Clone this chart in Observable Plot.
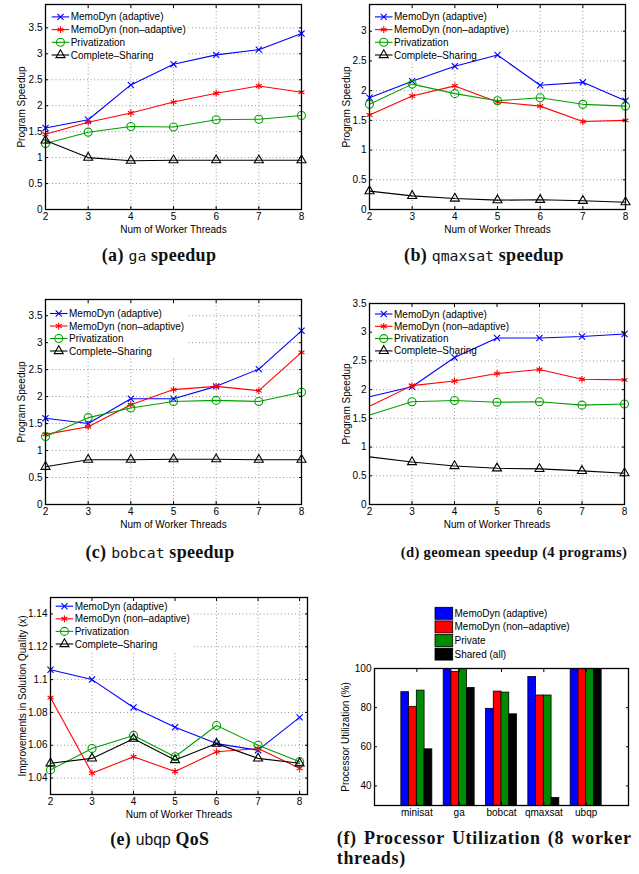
<!DOCTYPE html>
<html><head><meta charset="utf-8">
<script src="https://cdn.jsdelivr.net/npm/d3@7"></script>
<script src="https://cdn.jsdelivr.net/npm/@observablehq/plot@0.6"></script>
<style>
body{margin:0;background:#fff;}
#root{position:relative;width:639px;height:874px;overflow:hidden;background:#fff;}
.panel{position:absolute;}
.cap{position:absolute;font-family:"Liberation Serif","Times New Roman",serif;font-weight:bold;font-size:17px;letter-spacing:0.3px;white-space:nowrap;transform:translate(-50%,-50%);color:#111;line-height:1;}
.mono{font-family:"DejaVu Sans Mono","Liberation Mono",monospace;font-weight:normal;font-size:0.82em;letter-spacing:0;}
.sans{font-family:"Liberation Sans",Arial,sans-serif;font-weight:normal;font-size:0.88em;letter-spacing:0;}
.capf{position:absolute;font-family:"Liberation Serif","Times New Roman",serif;font-weight:bold;font-size:18px;letter-spacing:0.7px;color:#111;line-height:1;}
</style></head><body><div id="root"></div>
<script>
// ---------- data ----------
const threads = [2, 3, 4, 5, 6, 7, 8];
const seriesNames = ["MemoDyn (adaptive)", "MemoDyn (non\u2013adaptive)", "Privatization", "Complete\u2013Sharing"];

const gaAdaptive      = [1.57, 1.73, 2.40, 2.80, 2.98, 3.08, 3.39];
const gaNonAdaptive   = [1.45, 1.68, 1.86, 2.07, 2.24, 2.38, 2.26];
const gaPrivatization = [1.27, 1.49, 1.60, 1.59, 1.73, 1.74, 1.81];
const gaSharing       = [1.33, 1.00, 0.94, 0.95, 0.95, 0.95, 0.95];

const qmaxsatAdaptive      = [1.88, 2.16, 2.41, 2.60, 2.09, 2.14, 1.83];
const qmaxsatNonAdaptive   = [1.59, 1.91, 2.08, 1.81, 1.74, 1.48, 1.50];
const qmaxsatPrivatization = [1.77, 2.11, 1.95, 1.83, 1.88, 1.77, 1.74];
const qmaxsatSharing       = [0.31, 0.23, 0.185, 0.157, 0.163, 0.146, 0.123];

const bobcatAdaptive      = [1.60, 1.50, 1.96, 1.96, 2.19, 2.51, 3.22];
const bobcatNonAdaptive   = [1.30, 1.44, 1.85, 2.13, 2.19, 2.11, 2.82];
const bobcatPrivatization = [1.26, 1.61, 1.79, 1.91, 1.93, 1.91, 2.08];
const bobcatSharing       = [0.70, 0.83, 0.83, 0.84, 0.84, 0.83, 0.83];

const geoAdaptive      = [1.875, 2.05, 2.56, 2.90, 2.90, 2.925, 2.97];
const geoNonAdaptive   = [1.71, 2.07, 2.15, 2.28, 2.35, 2.18, 2.17];
const geoPrivatization = [1.56, 1.79, 1.81, 1.78, 1.79, 1.73, 1.75];
const geoSharing       = [0.83, 0.74, 0.67, 0.63, 0.62, 0.585, 0.545];

const ubqpAdaptive      = [1.106, 1.100, 1.083, 1.071, 1.061, 1.057, 1.077];
const ubqpNonAdaptive   = [1.089, 1.043, 1.053, 1.044, 1.056, 1.058, 1.046];
const ubqpPrivatization = [1.045, 1.058, 1.066, 1.053, 1.072, 1.060, 1.050];
const ubqpSharing       = [1.049, 1.052, 1.064, 1.051, 1.061, 1.052, 1.049];

const speedupTicks34 = [0, 0.5, 1, 1.5, 2, 2.5, 3, 3.5];
const speedupTicks3  = [0, 0.5, 1, 1.5, 2, 2.5, 3];
const qosTicks       = [1.04, 1.06, 1.08, 1.10, 1.12, 1.14];

const utilCategories = ["minisat", "ga", "bobcat", "qmaxsat", "ubqp"];
const utilSeries     = ["MemoDyn (adaptive)", "MemoDyn (non\u2013adaptive)", "Private", "Shared (all)"];
const utilAdaptive    = [87.9, 100, 79.4, 95.7, 100];
const utilNonAdaptive = [80.4, 98.3, 88.2, 86.2, 100];
const utilPrivate     = [88.7, 100, 87.7, 86.2, 100];
const utilShared      = [58.7, 90.1, 76.6, 33.9, 99.8];
const utilTicks       = [40, 60, 80, 100];

// ---------- styles ----------
const lineColors = ["#0000ff", "#ff0000", "#00a000", "#000000"];
const barColors  = ["#0000ff", "#ff0000", "#008c00", "#000000"];
const symbols    = ["times", "asterisk", "circle", "triangle2"];
const symbolR    = [2.9, 3.2, 4, 4.3];
const FONT = "Liberation Sans, Arial, Helvetica, sans-serif";
const root = d3.select("#root");

function fmtNum(d) { return String(+d.toFixed(2)); }

function textWidth(str, size) {
  const c = textWidth.c || (textWidth.c = document.createElement("canvas").getContext("2d"));
  c.font = `${size}px "Liberation Sans", Arial, sans-serif`;
  return c.measureText(str).width;
}

function overlay() {
  return root.append("svg").attr("class", "panel")
    .style("left", "0px").style("top", "0px").attr("width", 639).attr("height", 874)
    .style("pointer-events", "none");
}

function legendBackground({x, y, step}) {
  const maxW = d3.max(seriesNames, s => textWidth(s, 10));
  overlay().append("rect").attr("x", x - 3).attr("y", y - 8)
    .attr("width", 19 + maxW + 5).attr("height", step * 3 + 15).attr("fill", "#fff");
}

function legendContent({x, y, step}) {
  const svg = overlay();
  seriesNames.forEach((name, i) => {
    const cy = y + i * step;
    svg.append("line").attr("x1", x).attr("x2", x + 17.5).attr("y1", cy).attr("y2", cy)
      .attr("stroke", lineColors[i]).attr("stroke-width", 1.1);
    const sym = [d3.symbolTimes, d3.symbolAsterisk, d3.symbolCircle, d3.symbolTriangle2][i];
    svg.append("path").attr("d", d3.symbol(sym, symbolR[i] * symbolR[i] * Math.PI)())
      .attr("transform", `translate(${x + 8.75},${cy})`)
      .attr("fill", "none").attr("stroke", lineColors[i]).attr("stroke-width", 1.1);
    svg.append("text").attr("x", x + 19).attr("y", cy).attr("dy", "0.35em")
      .attr("font-family", FONT).attr("font-size", 10).text(name);
  });
}

function place(p, ox, oy) {
  p.classList.add("panel");
  p.style.left = ox + "px"; p.style.top = oy + "px";
  root.node().appendChild(p);
}

function linePanel({ox, oy, w, h, L, R, T, B, xDomain = [2, 8], yDomain, yTicks, yLabel, ylOff, series, legend, skipFirstMarker = false}) {
  const frameOpts = {
    width: w, height: h,
    marginLeft: L - ox, marginRight: ox + w - R, marginTop: T - oy, marginBottom: oy + h - B,
    x: {domain: xDomain},
    y: {domain: yDomain},
    style: {fontFamily: FONT, fontSize: "10.5px", color: "#000", background: "transparent", overflow: "visible"}
  };
  // grid layer (underneath the legend box)
  place(Plot.plot({...frameOpts, marks: [
    Plot.gridX(threads, {stroke: "#999", strokeOpacity: 1, strokeDasharray: "1,2.5"}),
    Plot.gridY(yTicks, {stroke: "#999", strokeOpacity: 1, strokeDasharray: "1,2.5"}),
    Plot.axisX(threads, {anchor: "bottom", tickSize: 0, tickFormat: () => "", label: null}),
    Plot.axisY(yTicks, {anchor: "left", tickSize: 0, tickFormat: () => "", label: null})
  ]}), ox, oy);
  legendBackground(legend);
  const marks = [];
  series.forEach((vals, si) => {
    const pts = vals.map((v, i) => ({x: threads[i], y: v}));
    marks.push(Plot.line(pts, {x: "x", y: "y", stroke: lineColors[si], strokeWidth: 1.1}));
    marks.push(Plot.dot(skipFirstMarker ? pts.slice(1) : pts, {x: "x", y: "y", symbol: symbols[si], r: symbolR[si], stroke: lineColors[si], fill: "none", strokeWidth: 1.1}));
  });
  marks.push(
    Plot.frame({stroke: "#000", strokeWidth: 1.3}),
    Plot.axisX(threads, {anchor: "bottom", tickSize: -3, tickPadding: 6, fontSize: 10, label: "Num of Worker Threads", labelAnchor: "center", labelArrow: "none", labelOffset: 23}),
    Plot.axisX(threads, {anchor: "top", tickSize: -3, tickFormat: () => "", label: null}),
    Plot.axisY(yTicks, {anchor: "left", tickSize: -3, tickPadding: 6, tickFormat: fmtNum, fontSize: 10, label: yLabel, labelAnchor: "center", labelArrow: "none", labelOffset: ylOff}),
    Plot.axisY(yTicks, {anchor: "right", tickSize: -3, tickFormat: () => "", label: null})
  );
  place(Plot.plot({...frameOpts, marks}), ox, oy);
  legendContent(legend);
}

// (a) ga
linePanel({ox: 0, oy: 0, w: 320, h: 240, L: 45, R: 301, T: 4, B: 209, yDomain: [0, 3.95], yTicks: speedupTicks34,
  yLabel: "Program Speedup", ylOff: 28, series: [gaAdaptive, gaNonAdaptive, gaPrivatization, gaSharing],
  legend: {x: 51.7, y: 16.9, step: 12.7}});
// (b) qmaxsat
linePanel({ox: 320, oy: 0, w: 319, h: 240, L: 369, R: 625, T: 4, B: 209, yDomain: [0, 3.45], yTicks: speedupTicks3,
  yLabel: "Program Speedup", ylOff: 27, series: [qmaxsatAdaptive, qmaxsatNonAdaptive, qmaxsatPrivatization, qmaxsatSharing],
  legend: {x: 375, y: 16.9, step: 12.7}});
// (c) bobcat
linePanel({ox: 0, oy: 285, w: 320, h: 240, L: 45, R: 301, T: 299, B: 504, yDomain: [0, 3.8], yTicks: speedupTicks34,
  yLabel: "Program Speedup", ylOff: 28, series: [bobcatAdaptive, bobcatNonAdaptive, bobcatPrivatization, bobcatSharing],
  legend: {x: 50, y: 313.5, step: 12.5}});
// (d) geomean
linePanel({ox: 320, oy: 285, w: 319, h: 240, L: 369, R: 624, T: 303, B: 504, yDomain: [0, 3.5], yTicks: speedupTicks34,
  yLabel: "Program Speedup", ylOff: 27, skipFirstMarker: true, series: [geoAdaptive, geoNonAdaptive, geoPrivatization, geoSharing],
  legend: {x: 375, y: 314, step: 12.3}});
// (e) ubqp QoS
linePanel({ox: 0, oy: 580, w: 320, h: 240, L: 50, R: 307, T: 597, B: 794, xDomain: [2, 8.19], yDomain: [1.03, 1.15], yTicks: qosTicks,
  yLabel: "Improvements in Solution Quality (x)", ylOff: 32, series: [ubqpAdaptive, ubqpNonAdaptive, ubqpPrivatization, ubqpSharing],
  legend: {x: 55.7, y: 606.2, step: 12.6}});

// (f) processor utilization bars
(function () {
  const ox = 320, oy = 580, w = 319, h = 240, L = 374, R = 628, T = 668, B = 805;
  const groups = [utilAdaptive, utilNonAdaptive, utilPrivate, utilShared];
  const bw = 0.183;
  const bars = [];
  utilCategories.forEach((c, ci) => groups.forEach((vals, si) => {
    const x1 = ci + 1 + (si - 2) * bw;
    bars.push({x1, x2: x1 + bw, v: vals[ci], s: si});
  }));
  const catTicks = utilCategories.map((c, i) => i + 1);
  const marks = [];
  groups.forEach((vals, si) => {
    marks.push(Plot.rectY(bars.filter(b => b.s === si), {x1: "x1", x2: "x2", y1: 0, y2: "v", fill: barColors[si], stroke: "#000", strokeWidth: 0.8, clip: true}));
  });
  marks.push(
    Plot.frame({stroke: "#000", strokeWidth: 1.3}),
    Plot.axisX(catTicks, {anchor: "bottom", tickSize: -3, tickPadding: 6, fontSize: 10, tickFormat: i => utilCategories[i - 1], label: null}),
    Plot.axisX(catTicks, {anchor: "top", tickSize: -3, tickFormat: () => "", label: null}),
    Plot.axisY(utilTicks, {anchor: "left", tickSize: -3, tickPadding: 6, fontSize: 10, tickFormat: fmtNum, label: "Processor Utilization (%)", labelAnchor: "center", labelArrow: "none", labelOffset: 33}),
    Plot.axisY(utilTicks, {anchor: "right", tickSize: -3, tickFormat: () => "", label: null})
  );
  place(Plot.plot({
    width: w, height: h,
    marginLeft: L - ox, marginRight: ox + w - R, marginTop: T - oy, marginBottom: oy + h - B,
    x: {domain: [0, 6]},
    y: {domain: [30, 100]},
    style: {fontFamily: FONT, fontSize: "10.5px", color: "#000", background: "transparent", overflow: "visible"},
    marks
  }), ox, oy);

  const svg = overlay();
  utilSeries.forEach((name, i) => {
    const cy = 613.3 + i * 13.6;
    svg.append("rect").attr("x", 435).attr("y", cy - 6).attr("width", 17.7).attr("height", 12)
      .attr("fill", barColors[i]).attr("stroke", "#000").attr("stroke-width", 0.8);
    svg.append("text").attr("x", 454.5).attr("y", cy).attr("dy", "0.35em")
      .attr("font-family", FONT).attr("font-size", 10).text(name);
  });
})();

// ---------- captions (font size fitted to the reference caption width) ----------
function caption(x, y, targetW, html) {
  const el = root.append("div").attr("class", "cap").style("left", x + "px").style("top", y + "px").html(html);
  const w0 = el.node().getBoundingClientRect().width;
  const fs = Math.min(18, 17 * targetW / w0);
  el.style("font-size", fs.toFixed(2) + "px");
}
caption(159, 255, 118, '(a) <span class="mono">ga</span> speedup');
caption(484, 255, 165, '(b) <span class="mono">qmaxsat</span> speedup');
caption(160, 551.7, 157, '(c) <span class="mono">bobcat</span> speedup');
caption(514, 551.7, 225, '(d) geomean speedup (4 programs)');
caption(159.7, 840, 99, '(e) <span class="sans">ubqp</span> QoS');
root.append("div").attr("class", "capf")
  .style("left", "336.7px").style("top", "829px").style("width", "295px")
  .style("text-align", "justify").style("text-align-last", "justify")
  .text("(f) Processor Utilization (8 worker");
root.append("div").attr("class", "capf")
  .style("left", "336.7px").style("top", "849px")
  .text("threads)");
</script>
</body></html>
